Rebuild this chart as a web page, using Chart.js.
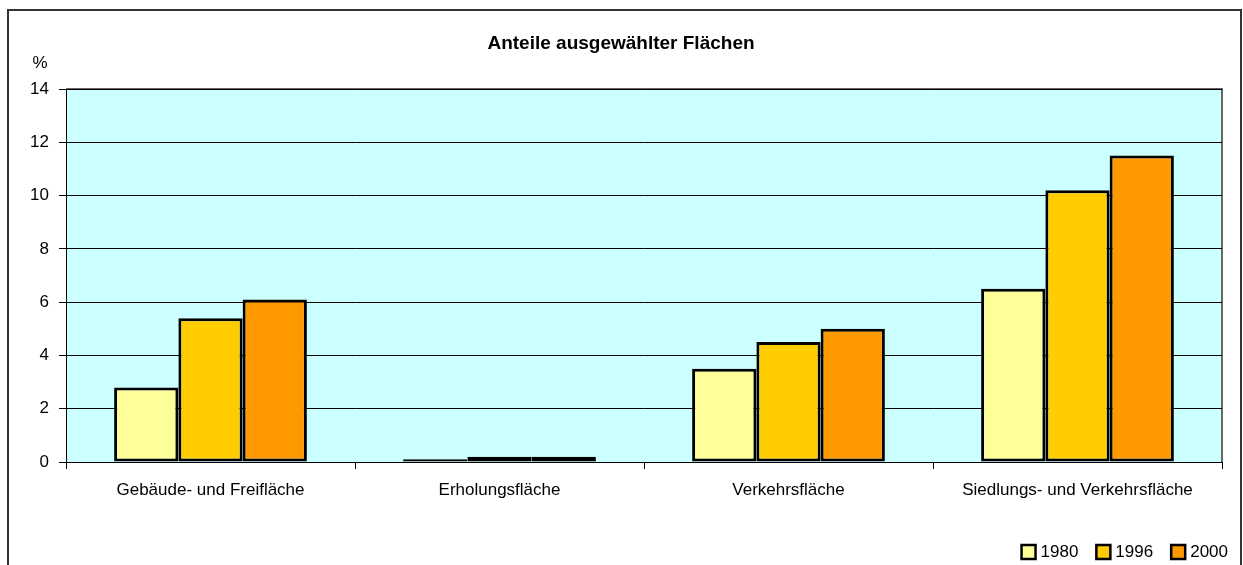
<!DOCTYPE html>
<html>
<head>
<meta charset="utf-8">
<script src="https://cdn.jsdelivr.net/npm/chart.js@4/dist/chart.umd.min.js"></script>
<style>
  html, body { margin: 0; padding: 0; background: #fff; }
  #wrap { width: 1243px; height: 565px; position: relative; }
</style>
</head>
<body>
<div id="wrap"><canvas id="c" width="1243" height="565"></canvas></div>
<script>
const chartTitle = "Anteile ausgewählter Flächen";
const unitLabel = "%";
const categories = ["Gebäude- und Freifläche", "Erholungsfläche", "Verkehrsfläche", "Siedlungs- und Verkehrsfläche"];
const seriesNames = ["1980", "1996", "2000"];
const values1980 = [2.8, 0.1, 3.5, 6.5];
const values1996 = [5.4, 0.2, 4.5, 10.2];
const values2000 = [6.1, 0.2, 5.0, 11.5];
const yTicks = [0, 2, 4, 6, 8, 10, 12, 14];

const colors = ["#FFFF99", "#FFCC00", "#FF9900"];
const FONT = "'Liberation Sans', Arial, sans-serif";

const decor = {
  id: 'decor',
  beforeDraw(chart) {
    const ctx = chart.ctx;
    const a = chart.chartArea;
    ctx.save();
    ctx.fillStyle = '#fff';
    ctx.fillRect(0, 0, chart.width, chart.height);
    ctx.strokeStyle = '#333';
    ctx.lineWidth = 2;
    ctx.strokeRect(8, 10, 1233, 620);
    ctx.fillStyle = '#CCFFFF';
    ctx.fillRect(a.left, a.top, a.right - a.left, a.bottom - a.top);
    ctx.strokeStyle = '#666';
    ctx.lineWidth = 2;
    ctx.beginPath();
    ctx.moveTo(a.left, a.top);
    ctx.lineTo(a.right, a.top);
    ctx.lineTo(a.right, a.bottom);
    ctx.stroke();
    ctx.fillStyle = '#000';
    ctx.font = "bold 19px " + FONT;
    ctx.textAlign = 'center';
    ctx.textBaseline = 'middle';
    ctx.fillText(chartTitle, 621, 44);
    ctx.font = "17px " + FONT;
    ctx.fillText(unitLabel, 40, 63);
    ctx.restore();
  },
  afterDraw(chart) {
    const ctx = chart.ctx;
    ctx.save();
    ctx.font = "17px " + FONT;
    ctx.textBaseline = 'middle';
    ctx.textAlign = 'left';
    const ds = chart.data.datasets;
    const box = 14, gap = 5, between = 18;
    let widths = ds.map(d => box + gap + ctx.measureText(d.label).width);
    let total = widths.reduce((s, w) => s + w, 0) + between * (ds.length - 1);
    let x = 1228 - total;
    const yc = 552;
    ds.forEach((d, i) => {
      ctx.fillStyle = d.backgroundColor;
      ctx.fillRect(x, yc - box / 2, box, box);
      ctx.strokeStyle = '#000';
      ctx.lineWidth = 2.5;
      ctx.strokeRect(x, yc - box / 2, box, box);
      ctx.fillStyle = '#000';
      ctx.fillText(d.label, x + box + gap, yc);
      x += widths[i] + between;
    });
    ctx.restore();
  }
};

new Chart(document.getElementById('c'), {
  type: 'bar',
  data: {
    labels: categories,
    datasets: [values1980, values1996, values2000].map((v, i) => ({
      label: seriesNames[i],
      data: v,
      backgroundColor: colors[i],
      borderColor: '#000',
      borderWidth: 3,
      borderSkipped: false,
      categoryPercentage: 0.667,
      barPercentage: 1.0
    }))
  },
  options: {
    responsive: false,
    animation: false,
    devicePixelRatio: 1,
    layout: { padding: { top: 89, right: 21, bottom: 0, left: 0 } },
    plugins: {
      legend: { display: false },
      title: { display: false },
      tooltip: { enabled: false }
    },
    scales: {
      x: {
        grid: {
          offset: true,
          drawOnChartArea: false,
          drawTicks: true,
          tickLength: 7,
          color: '#000',
          lineWidth: 1
        },
        border: { color: '#000', width: 1 },
        ticks: {
          color: '#000',
          font: { family: FONT, size: 17 },
          padding: 11,
          maxRotation: 0,
          autoSkip: false
        },
        afterFit(s) { s.height = 103; }
      },
      y: {
        min: 0,
        max: 14,
        afterBuildTicks(s) { s.ticks = yTicks.map(v => ({ value: v })); },
        grid: {
          color: '#000',
          lineWidth: 1,
          drawTicks: true,
          tickLength: 7,
          tickColor: '#000'
        },
        border: { color: '#000', width: 1 },
        ticks: {
          color: '#000',
          font: { family: FONT, size: 17 },
          padding: 10
        },
        afterFit(s) { s.width = 66; }
      }
    }
  },
  plugins: [decor]
});
</script>
</body>
</html>
